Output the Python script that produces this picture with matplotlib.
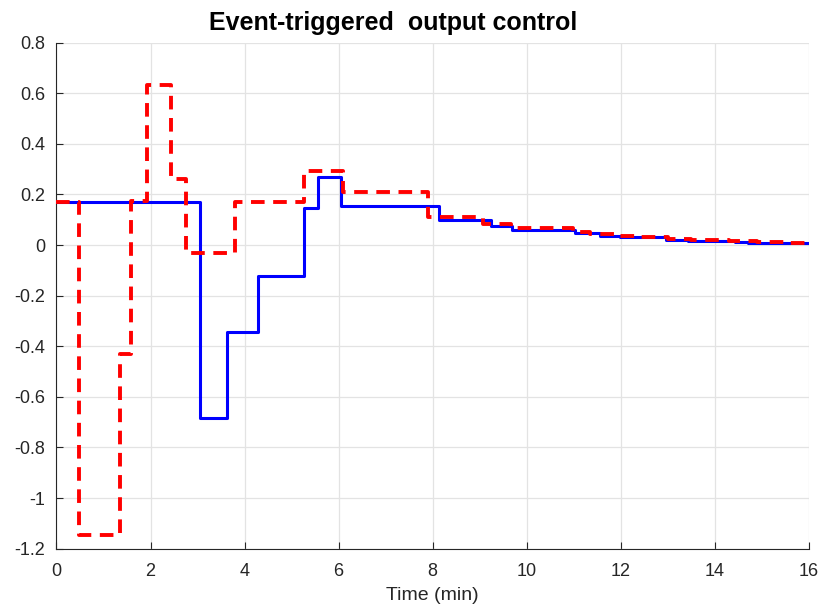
#!/usr/bin/env python3
"""Event-triggered output control: step responses of two outputs."""

import matplotlib
matplotlib.use("Agg")
import matplotlib.pyplot as plt

# ── Data ──────────────────────────────────────────────────────────────────────

# solid blue output, piecewise constant (steps-post)
blue_t = [0, 3.06, 3.62, 4.28, 5.26, 5.57, 6.06, 8.14, 9.23, 9.69, 11.02,
          11.55, 11.98, 12.97, 13.43, 14.43, 14.7, 16]
blue_y = [0.17, -0.685, -0.345, -0.121, 0.145, 0.27, 0.155, 0.101, 0.075,
          0.059, 0.049, 0.037, 0.030, 0.020, 0.016, 0.011, 0.008, 0.008]

# dashed red output
red_t = [0, 0.49, 1.36, 1.59, 1.92, 2.43, 2.76, 3.79, 5.26, 6.09, 7.9, 9.07,
         9.67, 10.98, 11.34, 11.9, 12.4, 13.0, 13.5, 14.3, 14.9, 15.5, 16]
red_y = [0.17, -1.146, -0.43, 0.175, 0.632, 0.26, -0.033, 0.172, 0.292, 0.21,
         0.112, 0.083, 0.068, 0.050, 0.042, 0.035, 0.030, 0.024, 0.020, 0.016,
         0.012, 0.009, 0.009]

x_ticks = list(range(0, 17, 2))
y_ticks = [-1.2, -1, -0.8, -0.6, -0.4, -0.2, 0, 0.2, 0.4, 0.6, 0.8]
y_labels = ["-1.2", "-1", "-0.8", "-0.6", "-0.4", "-0.2", "0", "0.2", "0.4", "0.6", "0.8"]

plt.rcParams.update({
    "font.family": ["Liberation Sans", "DejaVu Sans"],
    "font.size": 12,
})

fig = plt.figure(figsize=(8.18, 6.09), dpi=100)
ax = fig.add_axes([0.069, 0.099, 0.920, 0.831])

ax.plot(blue_t, blue_y, drawstyle="steps-post", color="#0000ff", lw=2.2, zorder=3)
ax.plot(red_t, red_y, drawstyle="steps-post", color="#ff0000", lw=2.8,
        linestyle=(0, (3.5, 2.2)), zorder=4)

ax.set_xlim(0, 16)
ax.set_ylim(-1.2, 0.8)
ax.set_xticks(x_ticks)
ax.set_yticks(y_ticks)
ax.set_yticklabels(y_labels)
ax.grid(True, color="#e3e3e3", linewidth=0.9)
ax.set_axisbelow(True)

for side in ("top", "right"):
    ax.spines[side].set_visible(False)
for side in ("left", "bottom"):
    ax.spines[side].set_color("#262626")
    ax.spines[side].set_linewidth(0.8)
ax.tick_params(direction="in", length=5, width=0.8, colors="#262626",
               labelsize=13, labelcolor="#262626")
ax.tick_params(axis="y", pad=8)
ax.tick_params(axis="x", pad=10)

ax.set_xlabel("Time (min)", fontsize=14, color="#262626", labelpad=5)
ax.set_title("Event-triggered  output control", fontsize=18, fontweight="bold",
             x=0.447, pad=9)

fig.savefig("out.png", dpi=100)
